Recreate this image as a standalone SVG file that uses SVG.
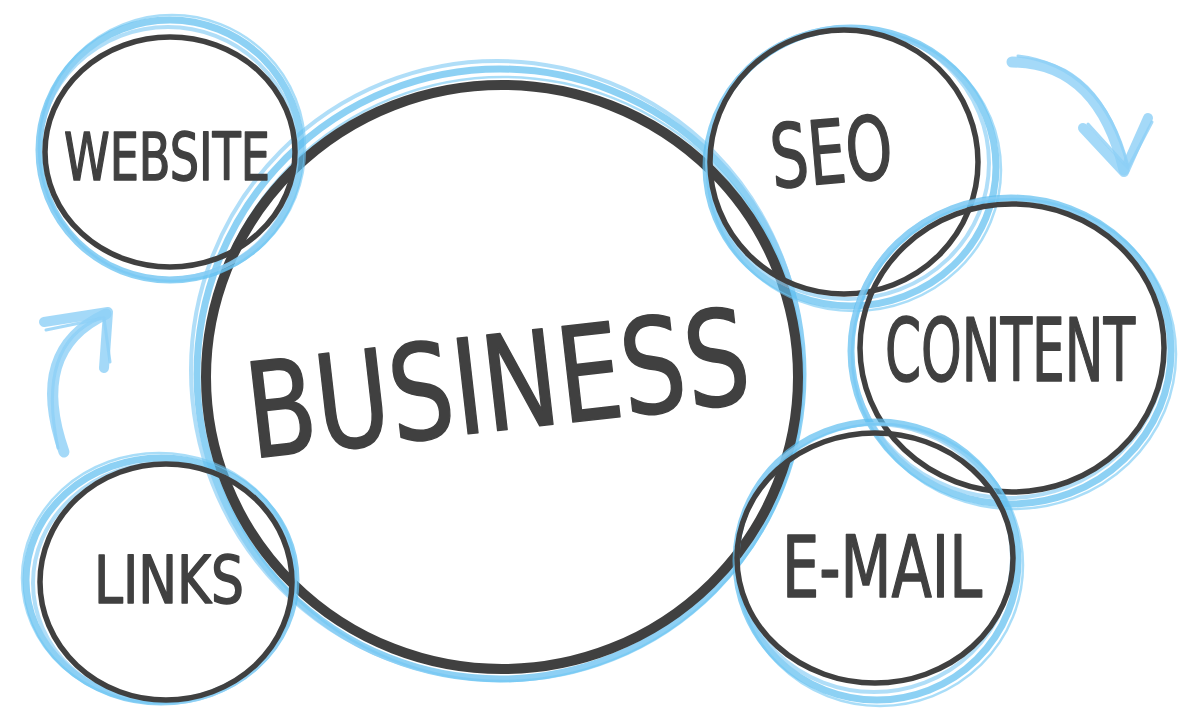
<svg xmlns="http://www.w3.org/2000/svg" width="1200" height="720" viewBox="0 0 1200 720">
<style>
.b1{fill:none;stroke:#5cbdf0;stroke-width:7;opacity:.7}
.b2{fill:none;stroke:#8fd0f5;stroke-width:4;opacity:.7}
.b3{fill:none;stroke:#6fc6f3;stroke-width:2.5;opacity:.6}
.dk{fill:none;stroke:#404040;stroke-width:5.5}
.dkb{fill:none;stroke:#404040;stroke-width:10}
.lbl{font-family:"Liberation Sans Narrow","DejaVu Sans Condensed","Liberation Sans",sans-serif;fill:#404040;stroke:#404040;stroke-width:1.5;stroke-linejoin:round;text-anchor:middle}
.arr{fill:none;stroke:#8dd0f6;stroke-linecap:round;stroke-linejoin:round;opacity:.8}
</style>
<rect width="1200" height="720" fill="#ffffff"/>
<g id="connectors">
  <g id="arrow-top-right">
    <path class="arr" d="M1012,62 Q1098,62 1124,170" stroke-width="11"/>
    <path class="arr" d="M1018,56 Q1102,66 1128,166" stroke-width="3" stroke="#6cc3f2"/>
    <path class="arr" d="M1083,128 L1124,172 L1148,118" stroke-width="10"/>
    <path class="arr" d="M1088,124 L1128,168 L1152,122" stroke-width="3" stroke="#6cc3f2"/>
  </g>
  <g id="arrow-left">
    <path class="arr" d="M64,452 Q28,350 106,314" stroke-width="11"/>
    <path class="arr" d="M58,448 Q36,344 100,318" stroke-width="3" stroke="#6cc3f2"/>
    <path class="arr" d="M44,322 L108,312 L104,368" stroke-width="10"/>
    <path class="arr" d="M46,330 L104,318 L110,362" stroke-width="3" stroke="#6cc3f2"/>
  </g>
</g>
<g id="node-business">
  <ellipse class="b1" cx="500" cy="374" rx="303" ry="305"/>
  <ellipse class="b2" cx="497" cy="370" rx="306" ry="309"/>
  <ellipse class="b3" cx="503" cy="379" rx="300" ry="302"/>
  <ellipse class="dkb" cx="502" cy="377" rx="296" ry="292"/>
  <text class="lbl" x="0" y="0" font-size="132" stroke-width="3" textLength="505" lengthAdjust="spacingAndGlyphs" transform="translate(503,430) rotate(-6.5)">BUSINESS</text>
</g>
<g id="node-website">
  <ellipse class="b1" cx="170" cy="150" rx="131" ry="130"/>
  <ellipse class="b2" cx="168" cy="153" rx="129" ry="126"/>
  <ellipse class="b3" cx="172" cy="148" rx="133" ry="133"/>
  <ellipse class="dk" cx="170" cy="152" rx="125" ry="115"/>
  <text class="lbl" x="167" y="180" font-size="66" textLength="206" lengthAdjust="spacingAndGlyphs">WEBSITE</text>
</g>
<g id="node-links">
  <ellipse class="b1" cx="161" cy="580" rx="135" ry="122"/>
  <ellipse class="b2" cx="164" cy="583" rx="131" ry="120"/>
  <ellipse class="b3" cx="159" cy="578" rx="137" ry="125"/>
  <ellipse class="dk" cx="166" cy="582" rx="126" ry="118"/>
  <text class="lbl" x="169" y="603" font-size="66" textLength="150" lengthAdjust="spacingAndGlyphs">LINKS</text>
</g>
<g id="node-seo">
  <ellipse class="b1" cx="851" cy="167" rx="145" ry="139"/>
  <ellipse class="b2" cx="848" cy="163" rx="141" ry="136"/>
  <ellipse class="b3" cx="854" cy="170" rx="147" ry="141"/>
  <ellipse class="dk" cx="844" cy="162" rx="134" ry="132"/>
  <text class="lbl" x="0" y="0" font-size="88" textLength="122" lengthAdjust="spacingAndGlyphs" transform="translate(834,183) rotate(-5)">SEO</text>
</g>
<g id="node-content">
  <ellipse class="b1" cx="1011" cy="351" rx="160" ry="153"/>
  <ellipse class="b2" cx="1008" cy="348" rx="157" ry="150"/>
  <ellipse class="b3" cx="1014" cy="354" rx="162" ry="155"/>
  <ellipse class="dk" cx="1012" cy="348" rx="152" ry="144"/>
  <text class="lbl" x="1010" y="381" font-size="88" textLength="250" lengthAdjust="spacingAndGlyphs">CONTENT</text>
</g>
<g id="node-email">
  <ellipse class="b1" cx="877" cy="561" rx="141" ry="139"/>
  <ellipse class="b2" cx="874" cy="558" rx="138" ry="134"/>
  <ellipse class="b3" cx="880" cy="565" rx="143" ry="141"/>
  <ellipse class="dk" cx="875" cy="558" rx="138" ry="125"/>
  <text class="lbl" x="882" y="597" font-size="86" textLength="200" lengthAdjust="spacingAndGlyphs">E-MAIL</text>
</g>
</svg>
